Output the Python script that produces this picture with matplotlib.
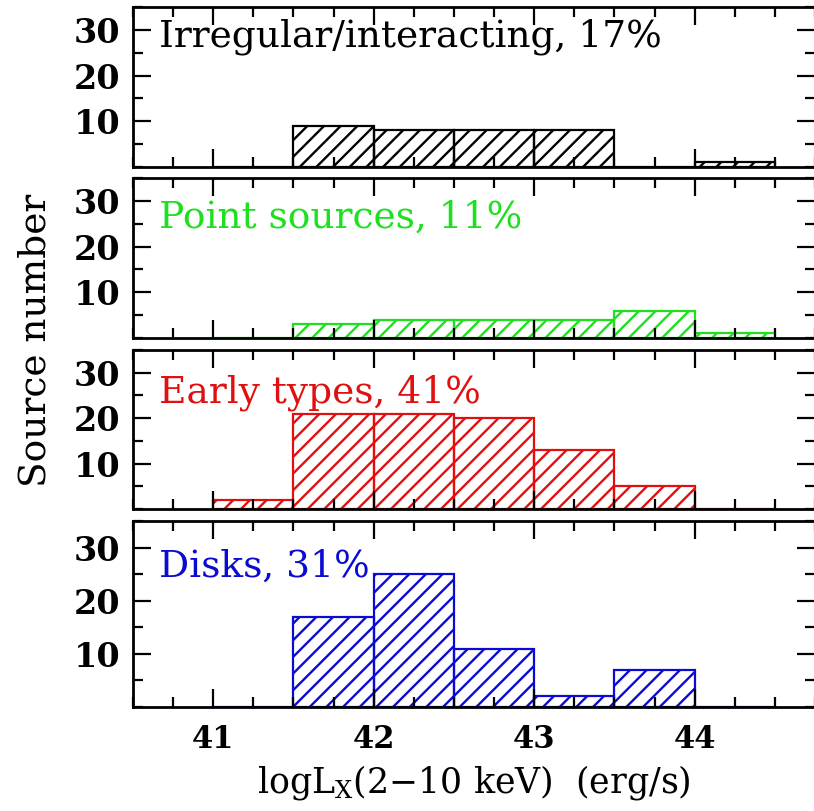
import matplotlib
matplotlib.use("Agg")
import matplotlib.pyplot as plt
from matplotlib.ticker import MultipleLocator
import numpy as np

plt.rcParams['font.family'] = 'DejaVu Serif'
plt.rcParams['mathtext.fontset'] = 'dejavuserif'
plt.rcParams['hatch.linewidth'] = 1.7

# left bin edges of logLx (0.5 dex bins)
bin_left = [41.0, 41.5, 42.0, 42.5, 43.0, 43.5, 44.0]
bin_width = 0.5

irregular = [0, 9, 8, 8, 8, 0, 1]
point_src = [0, 3, 4, 4, 4, 6, 1]
early = [2, 21, 21, 20, 13, 5, 0]
disks = [0, 17, 25, 11, 2, 7, 0]

labels = ["Irregular/interacting, 17%", "Point sources, 11%",
          "Early types, 41%", "Disks, 31%"]
colors = ["black", "#1ee01e", "#e01010", "#0a0ad2"]
label_y = [28.6, 26.3, 25.5, 26.3]
counts = [irregular, point_src, early, disks]

W, H = 814, 811
fig = plt.figure(figsize=(W / 100, H / 100), dpi=100)

# panel boxes in pixels: (top, bottom)
boxes = [(7, 167), (178, 338), (350, 509), (521, 707)]
left_px, right_px = 133, 815

axes = []
for (top, bot), n, lab, c, ly in zip(boxes, counts, labels, colors, label_y):
    ax = fig.add_axes([left_px / W, 1 - bot / H, (right_px - left_px) / W, (bot - top) / H])
    ax.bar(bin_left, n, width=bin_width, align='edge', fill=False,
           edgecolor=c, hatch='//', linewidth=1.6)
    ax.set_xlim(40.5, 44.75)
    ax.set_ylim(0, 35)
    ax.xaxis.set_major_locator(MultipleLocator(1))
    ax.xaxis.set_minor_locator(MultipleLocator(0.25))
    ax.yaxis.set_major_locator(MultipleLocator(10))
    ax.yaxis.set_minor_locator(MultipleLocator(5))
    ax.tick_params(which='both', direction='in', top=True, right=True, width=1.6)
    ax.tick_params(which='major', length=13)
    ax.tick_params(which='minor', length=7)
    ax.tick_params(axis='y', pad=9, labelsize=24)
    ax.tick_params(axis='x', pad=12, labelsize=22)
    for t in ax.get_yticklabels():
        t.set_fontweight('bold')
    ax.set_yticks([10, 20, 30])
    for s in ax.spines.values():
        s.set_linewidth(2.0)
    ax.text(40.66, ly, lab, color=c, fontsize=27, va='center', ha='left')
    axes.append(ax)

for ax in axes[:-1]:
    ax.tick_params(axis='x', labelbottom=False)
for t in axes[-1].get_xticklabels():
    t.set_fontweight('bold')
axes[-1].set_xticks([41, 42, 43, 44])

fig.text(474 / W, 1 - 782 / H, r'logL$_{\rm X}$(2$-$10 keV)  (erg/s)',
         fontsize=25, ha='center', va='center')
fig.text(36 / W, 1 - 340 / H, 'Source number', fontsize=27,
         rotation=90, ha='center', va='center')

fig.savefig("out.png", dpi=100)
